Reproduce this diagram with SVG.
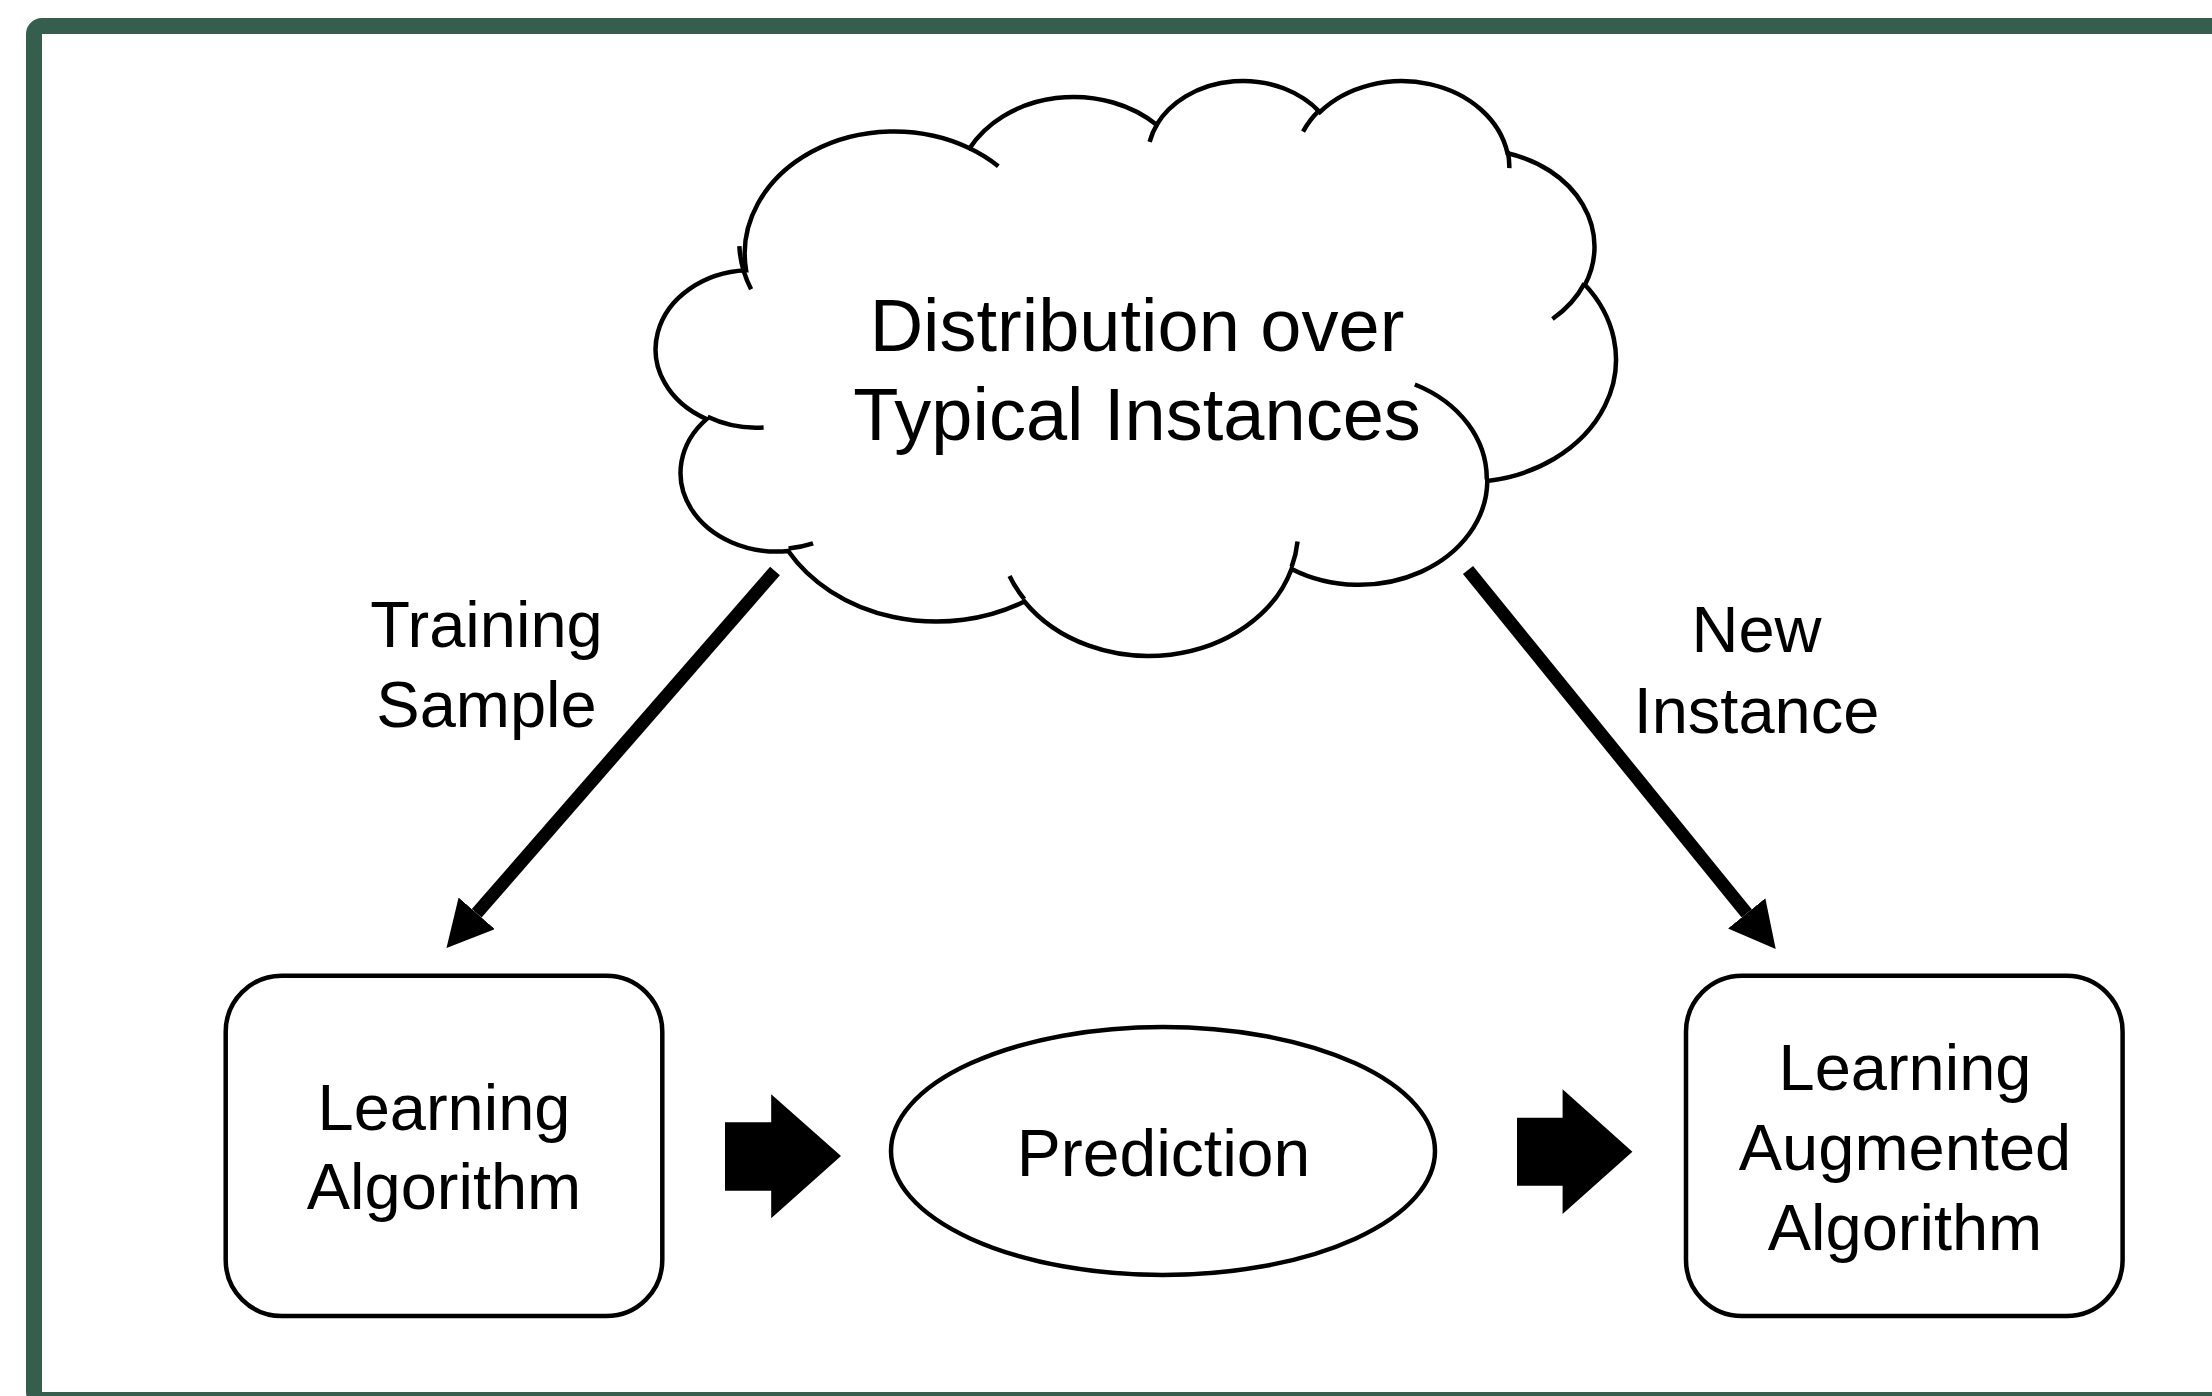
<svg xmlns="http://www.w3.org/2000/svg" width="2212" height="1396" viewBox="0 0 2212 1396">
<style>
text{font-family:"Liberation Sans",Arial,sans-serif;fill:#000;text-anchor:middle}
.cl{stroke:#000;stroke-width:4.5;vector-effect:non-scaling-stroke}
.box{fill:#fff;stroke:#000;stroke-width:4.5}
.t65{font-size:65px}
.conn{stroke:#000;stroke-width:13;fill:none}
.blk{fill:#000}
</style>
<defs>
<marker id="head" markerUnits="userSpaceOnUse" viewBox="0 0 46 48" markerWidth="46" markerHeight="48" refX="0" refY="24" orient="auto">
<path d="M0,0 L46,24 L0,48 Z" fill="#000"/>
</marker>
</defs>
<rect width="2212" height="1396" fill="#fff"/>
<rect id="frame" x="34" y="26" width="2220" height="1374" rx="8" fill="none" stroke="#355E4F" stroke-width="16"/>

<g id="cloud">
<g transform="translate(659.8,79.1) scale(0.022123,0.013305)">
<path class="cl" fill="#fff" d="M3900 14370 A6753 9190 0 0 1 14005 5202.1 A5333 7267 0 0 1 22457.2 3432.3 A4365 5945 0 0 1 29834.5 2480.2 A4857 6595 0 0 1 38318.8 5576.7 A5333 7273 0 0 1 41819 15460.4 A6775 9220 0 0 1 37405 30203.8 A5785 7867 0 0 1 28556.5 36813.8 A6752 9215 0 0 1 16481.8 39266.4 A7720 10543 0 0 1 5805.5 35471.7 A4360 5918 0 0 1 2112.6 25552.1 A4345 5945 0 0 1 3900 14370 Z"/>
<path class="cl" fill="none" d="M4693 26177 A4345 5945 0 0 1 2159.7 25379.9 M6928 34899 A4360 5918 0 0 1 5820 35280.3 M16478 39090 A6752 9215 0 0 1 15809.3 37348.4 M28827 34751 A6752 9215 0 0 1 28560.4 36660.2 M34129 22954 A5785 7867 0 0 1 37380.4 30089.6 M41798 15354 A5333 7273 0 0 1 40349.9 18030.1 M38324 5426 A4857 6595 0 0 1 38400.4 6689.7 M29078 3952 A4857 6595 0 0 1 29820.9 2338.3 M22141 4720 A4365 5945 0 0 1 22499.9 3331 M14000 5192 A6753 9190 0 0 1 15301.2 6542 M4127 15789 A6753 9190 0 0 1 3595.6 12553.4"/>
</g>
<text x="1137" y="351" style="font-size:74px">Distribution over</text>
<text x="1137" y="440" style="font-size:74px">Typical Instances</text>
</g>

<g id="learning-algorithm">
<rect class="box" x="225.7" y="975.7" width="436.6" height="340.3" rx="56"/>
<text class="t65" x="444" y="1130">Learning</text>
<text class="t65" x="444" y="1209">Algorithm</text>
</g>

<g id="prediction">
<ellipse cx="1163" cy="1151" rx="272" ry="124" fill="#fff" stroke="#000" stroke-width="4.5"/>
<text x="1163.5" y="1175.5" style="font-size:66px">Prediction</text>
</g>

<g id="learning-augmented-algorithm">
<rect class="box" x="1686" y="975.7" width="436.6" height="340.3" rx="56"/>
<text class="t65" x="1905" y="1090">Learning</text>
<text class="t65" x="1905" y="1169.5">Augmented</text>
<text class="t65" x="1905" y="1250">Algorithm</text>
</g>

<g id="connectors">
<path class="conn" d="M775,571 L476.7,913.3" marker-end="url(#head)"/>
<path class="conn" d="M1468,570 L1746.7,913.3" marker-end="url(#head)"/>
<polygon class="blk" points="725,1122.3 771.2,1122.3 771.2,1094.3 841,1156 771.2,1218.3 771.2,1190.7 725,1190.7"/>
<polygon class="blk" points="1517,1117.7 1562.6,1117.7 1562.6,1089.3 1632.4,1151.7 1562.6,1214 1562.6,1185.7 1517,1185.7"/>
<text class="t65" x="486.5" y="647">Training</text>
<text class="t65" x="486.5" y="727">Sample</text>
<text class="t65" x="1756.5" y="652">New</text>
<text class="t65" x="1756.5" y="733">Instance</text>
</g>
</svg>
